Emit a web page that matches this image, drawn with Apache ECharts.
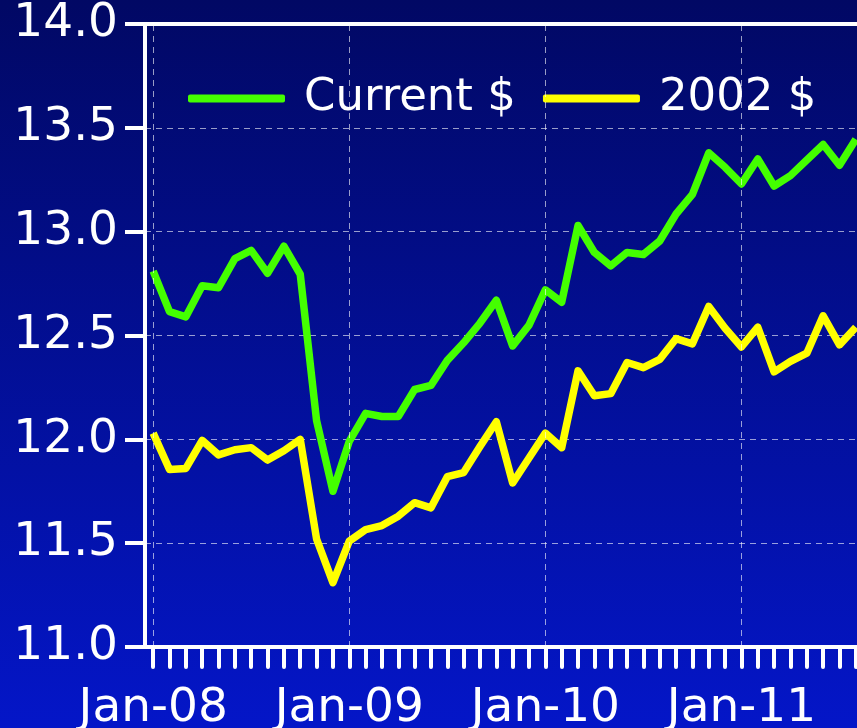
<!DOCTYPE html>
<html>
<head>
<meta charset="utf-8">
<script src="https://cdn.jsdelivr.net/npm/echarts@6/dist/echarts.min.js"></script>
<style>
html, body { margin: 0; padding: 0; }
#chart { width: 857px; height: 728px; }
</style>
</head>
<body>
<div id="chart"></div>
<script>
var monthNames = ['Jan','Feb','Mar','Apr','May','Jun','Jul','Aug','Sep','Oct','Nov','Dec'];
var years = ['08','09','10','11'];
var yTicks = [11.0, 11.5, 12.0, 12.5, 13.0, 13.5, 14.0];

var current = [12.81, 12.615, 12.59, 12.74, 12.73, 12.87, 12.91, 12.80, 12.93, 12.795, 12.09, 11.75,
               11.99, 12.125, 12.11, 12.11, 12.24, 12.26, 12.38, 12.465, 12.56, 12.67, 12.45, 12.55,
               12.72, 12.66, 13.03, 12.90, 12.835, 12.90, 12.89, 12.955, 13.085, 13.18, 13.38, 13.31,
               13.23, 13.35, 13.22, 13.27, 13.345, 13.42, 13.32, 13.445];
var real2002 = [12.03, 11.855, 11.86, 11.995, 11.925, 11.95, 11.96, 11.90, 11.945, 12.0, 11.52, 11.31,
                11.51, 11.565, 11.585, 11.63, 11.695, 11.67, 11.82, 11.84, 11.965, 12.085, 11.79, 11.91,
                12.03, 11.96, 12.33, 12.21, 12.22, 12.37, 12.345, 12.385, 12.485, 12.46, 12.64, 12.535,
                12.445, 12.54, 12.325, 12.375, 12.415, 12.595, 12.455, 12.54];

var months = [];
for (var i = 0; i < current.length; i++) {
    months.push(monthNames[i % 12] + '-' + years[Math.floor(i / 12)]);
}
var janLines = [];
for (var j = 0; j < months.length; j += 12) {
    janLines.push({xAxis: months[j]});
}

var font = 'DejaVu Sans';
var chart = echarts.init(document.getElementById('chart'));
var option = {
    backgroundColor: new echarts.graphic.LinearGradient(0, 0, 0, 1, [
        {offset: 0, color: '#010864'},
        {offset: 1, color: '#0416c8'}
    ]),
    animation: false,
    // plot runs a little past the right edge, like the original
    grid: {left: 145, width: 719, top: 24, bottom: 81, containLabel: false, outerBoundsMode: 'none'},
    legend: {
        data: ['Current $', '2002 $'],
        left: 183,
        top: 71,
        icon: 'roundRect',
        itemWidth: 97,
        itemHeight: 8,
        itemGap: 27,
        textStyle: {color: '#ffffff', fontFamily: font, fontSize: 45, padding: [0, 0, 0, 14]}
    },
    xAxis: [{
        type: 'category',
        data: months,
        boundaryGap: true,
        axisLine: {lineStyle: {color: '#ffffff', width: 4}},
        axisTick: {show: true, interval: 0, alignWithLabel: true, length: 20,
            lineStyle: {color: '#ffffff', width: 4, cap: 'round'}},
        axisLabel: {interval: 11, color: '#ffffff', fontFamily: font, fontSize: 47, margin: 38},
        splitLine: {show: false}
    }, {
        type: 'category',
        data: months,
        position: 'top',
        boundaryGap: true,
        axisLine: {lineStyle: {color: '#ffffff', width: 4}},
        axisTick: {show: false},
        axisLabel: {show: false},
        splitLine: {show: false}
    }],
    yAxis: {
        type: 'value',
        min: yTicks[0],
        max: yTicks[yTicks.length - 1],
        interval: 0.5,
        axisLine: {show: true, lineStyle: {color: '#ffffff', width: 4}},
        axisTick: {show: true, length: 20, lineStyle: {color: '#ffffff', width: 4}},
        axisLabel: {color: '#ffffff', fontFamily: font, fontSize: 47, margin: 27,
            padding: [8, 0, 0, 0],
            formatter: function (v) { return v.toFixed(1); }},
        splitLine: {lineStyle: {color: 'rgba(255,255,255,0.6)', width: 1, type: [6, 5]}}
    },
    series: [{
        name: 'grid',
        type: 'line',
        data: [],
        z: 1,
        markLine: {
            silent: true,
            symbol: 'none',
            label: {show: false},
            lineStyle: {color: 'rgba(255,255,255,0.6)', width: 1, type: [6, 5]},
            data: janLines
        }
    }, {
        name: 'Current $',
        type: 'line',
        data: current,
        symbol: 'none',
        z: 3,
        color: '#44ff00',
        lineStyle: {color: '#44ff00', width: 7.5, join: 'round'}
    }, {
        name: '2002 $',
        type: 'line',
        data: real2002,
        symbol: 'none',
        z: 3,
        color: '#ffff00',
        lineStyle: {color: '#ffff00', width: 7.5, join: 'round'}
    }]
};
chart.setOption(option);
</script>
</body>
</html>
